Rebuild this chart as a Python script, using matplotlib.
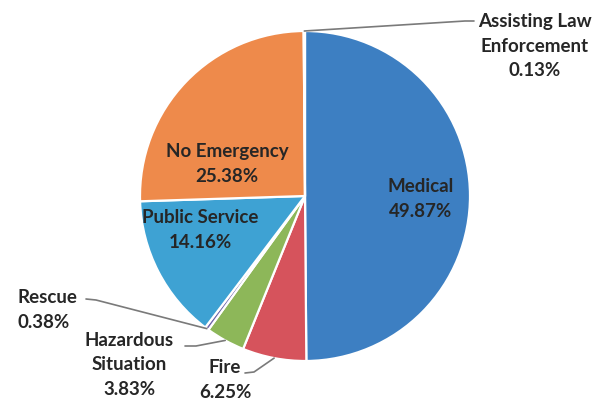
import numpy as np
import matplotlib
matplotlib.use("Agg")
from matplotlib import pyplot as plt

# slices, clockwise from 12 o'clock
categories = ["Medical", "Fire", "Hazardous\nSituation", "Rescue",
              "Public Service", "No Emergency", "Assisting Law\nEnforcement"]
shares = [49.87, 6.25, 3.83, 0.38, 14.16, 25.38, 0.13]
colors = ["#3d7fc2", "#d6535c", "#8db759", "#6f64ab",
          "#3ea2d3", "#ee8a4b", "#2f4e8a"]

plt.rcParams['font.family'] = ['Lato', 'DejaVu Sans']

fig = plt.figure(figsize=(6.03, 4.02), dpi=100)
ax = fig.add_axes([0, 0, 1, 1])

H = 402  # work in pixel coords, y flipped
cx, cy, r = 305, H - 197, 165

wedges, _ = ax.pie(shares, colors=colors, startangle=90, counterclock=False,
                   radius=r, center=(cx, cy),
                   wedgeprops=dict(edgecolor="white", linewidth=1.6))
ax.set_xlim(0, 603)
ax.set_ylim(0, H)
ax.set_aspect("equal")
ax.axis("off")

txt = dict(fontsize=13.5, fontweight="bold", color="#262626",
           ha="center", va="center", linespacing=1.55)

def lab(i):
    return f"{categories[i]}\n{shares[i]:.2f}%"

# labels inside the pie
ax.text(421, H - 199, lab(0), **txt)
ax.text(227, H - 164, lab(5), **txt)
ax.text(200, H - 230, lab(4), **txt)

def edge_pt(w):
    a = np.deg2rad((w.theta1 + w.theta2) / 2)
    return w.center[0] + w.r * np.cos(a), w.center[1] + w.r * np.sin(a)

def leader(w, elbow, end):
    x0, y0 = edge_pt(w)
    ax.plot([x0, elbow[0], end[0]], [y0, H - elbow[1], H - end[1]],
            color="#7a7a7a", lw=1.2, solid_capstyle="round")

# outside labels with leader lines
leader(wedges[6], (465, 22), (474, 22))
ax.text(535, H - 46, lab(6), **txt)

leader(wedges[3], (96, 301), (86, 300))
ax.text(17, H - 310, lab(3), **dict(txt, ha="left"))

leader(wedges[2], (196, 347), (185, 347))
ax.text(129, H - 365, lab(2), **txt)

leader(wedges[1], (254, 373), (245, 374))
ax.text(225, H - 380, lab(1), **txt)

fig.savefig("out.png", dpi=100)
